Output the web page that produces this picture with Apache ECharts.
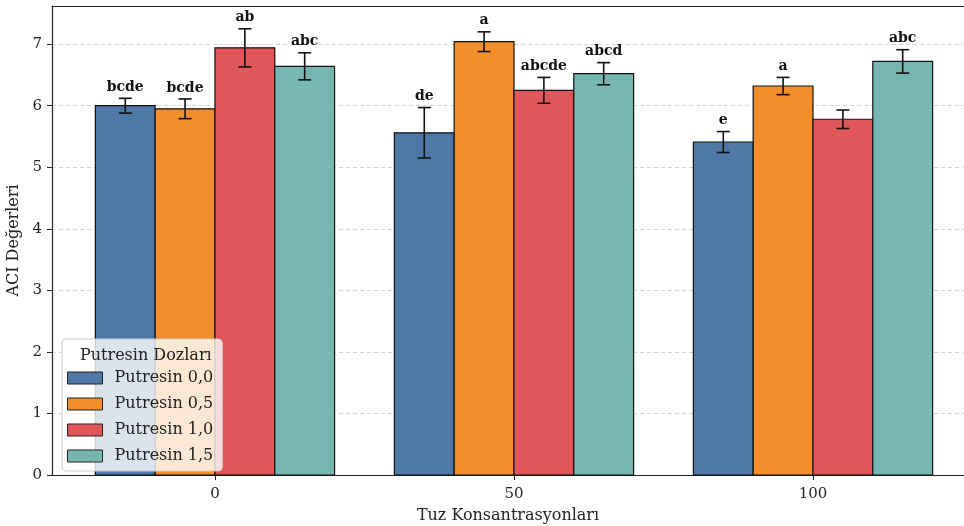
<!DOCTYPE html>
<html>
<head>
<meta charset="utf-8">
<script src="https://cdn.jsdelivr.net/npm/echarts@6/dist/echarts.min.js"></script>
<style>
  html, body { margin: 0; padding: 0; background: #fff; }
  #chart { width: 964px; height: 526px; }
</style>
</head>
<body>
<div id="chart"></div>
<script>
// data
var saltLevels = ['0', '50', '100'];
var doses = ['Putresin 0,0', 'Putresin 0,5', 'Putresin 1,0', 'Putresin 1,5'];
var aci00 = [6.00, 5.56, 5.41];
var aci05 = [5.95, 7.04, 6.32];
var aci10 = [6.94, 6.25, 5.78];
var aci15 = [6.64, 6.52, 6.72];
var err00 = [0.12, 0.41, 0.17];
var err05 = [0.16, 0.16, 0.14];
var err10 = [0.31, 0.21, 0.15];
var err15 = [0.22, 0.18, 0.19];
var let00 = ['bcde', 'de', 'e'];
var let05 = ['bcde', 'a', 'a'];
var let10 = ['ab', 'abcde', ''];
var let15 = ['abc', 'abcd', 'abc'];
var yTicks = [0, 1, 2, 3, 4, 5, 6, 7];

var means = [aci00, aci05, aci10, aci15];
var errs = [err00, err05, err10, err15];
var letters = [let00, let05, let10, let15];
var colors = ['#4e79a7', '#f28e2b', '#e15759', '#76b7b2'];
var font = 'DejaVu Serif';

var chart = echarts.init(document.getElementById('chart'));

// one custom series per dose: bar + error bar + letter
function doseSeries(i) {
  return {
    type: 'custom',
    name: doses[i],
    itemStyle: { color: colors[i] },
    encode: { x: 0, y: 1 },
    data: means[i].map(function (v, k) { return [k, v, errs[i][k]]; }),
    renderItem: function (params, api) {
      var k = api.value(0), v = api.value(1), e = api.value(2);
      var base = api.coord([k, 0]);
      var top = api.coord([k, v]);
      var w = api.size([1, 0])[0] * 0.2;
      var x0 = base[0] + (i - 2) * w;
      var cx = x0 + w / 2;
      var eTop = api.coord([k, v + e])[1];
      var eBot = api.coord([k, v - e])[1];
      var cap = 6.5;
      var line = { stroke: '#111', lineWidth: 1.6 };
      return {
        type: 'group',
        children: [
          { type: 'rect', shape: { x: x0, y: top[1], width: w, height: base[1] - top[1] },
            style: { fill: colors[i], stroke: '#111', lineWidth: 1.2 } },
          { type: 'line', shape: { x1: cx, y1: eTop, x2: cx, y2: eBot }, style: line },
          { type: 'line', shape: { x1: cx - cap, y1: eTop, x2: cx + cap, y2: eTop }, style: line },
          { type: 'line', shape: { x1: cx - cap, y1: eBot, x2: cx + cap, y2: eBot }, style: line },
          { type: 'text', x: cx, y: eTop - 4,
            style: { text: letters[i][params.dataIndex], align: 'center', verticalAlign: 'bottom',
                     font: 'bold 14px "' + font + '"', fill: '#111' } }
        ]
      };
    }
  };
}

var option = {
  animation: false,
  textStyle: { fontFamily: font },
  title: {
    text: 'Putresin Dozları',
    left: 75, top: 343,
    textStyle: { fontFamily: font, fontSize: 16, fontWeight: 'normal', color: '#222' },
    z: 20
  },
  legend: {
    data: doses,
    orient: 'vertical',
    left: 62, top: 339,
    padding: [31, 9, 7, 5],
    itemWidth: 35, itemHeight: 12, itemGap: 10,
    icon: 'rect',
    itemStyle: { borderColor: '#222', borderWidth: 1 },
    backgroundColor: 'rgba(255,255,255,0.8)',
    borderColor: '#ccc', borderWidth: 1, borderRadius: 4,
    textStyle: { fontFamily: font, fontSize: 16, color: '#222', lineHeight: 15, padding: [0, 0, 0, 7] },
    z: 10
  },
  grid: {
    left: 52, top: 6, right: 0, bottom: 51,
    show: false,
    outerBoundsMode: 'none',
    containLabel: false
  },
  xAxis: [{
    type: 'value',
    min: -0.545, max: 2.505,
    name: 'Tuz Konsantrasyonları',
    nameLocation: 'middle', nameGap: 33,
    nameTextStyle: { fontFamily: font, fontSize: 16, color: '#222' },
    axisLine: { onZero: false, lineStyle: { color: '#222', width: 1.2 } },
    axisTick: { show: true, length: 5, lineStyle: { color: '#222' }, customValues: [0, 1, 2] },
    axisLabel: {
      customValues: [0, 1, 2], margin: 12,
      fontFamily: font, fontSize: 15, color: '#222',
      formatter: function (v) { return saltLevels[Math.round(v)]; }
    },
    splitLine: { show: false }
  }, {
    // top frame line only
    type: 'value', position: 'top',
    min: -0.545, max: 2.505,
    axisLine: { show: true, onZero: false, lineStyle: { color: '#222', width: 1.2 } },
    axisTick: { show: false }, axisLabel: { show: false }, splitLine: { show: false }
  }],
  yAxis: {
    type: 'value',
    min: 0, max: 7.62,
    name: 'ACI Değerleri',
    nameLocation: 'middle', nameGap: 27,
    nameTextStyle: { fontFamily: font, fontSize: 16, color: '#222' },
    axisLine: { show: true, onZero: false, lineStyle: { color: '#222', width: 1.2 } },
    axisTick: { show: true, length: 5, lineStyle: { color: '#222' }, customValues: yTicks },
    axisLabel: { customValues: yTicks, margin: 10, fontFamily: font, fontSize: 15, color: '#222' },
    splitLine: { show: true, lineStyle: { color: '#c8c8c8', type: [4, 3], width: 0.8 } }
  },
  series: [doseSeries(0), doseSeries(1), doseSeries(2), doseSeries(3)]
};

chart.setOption(option);
window.addEventListener('resize', chart.resize);
</script>
</body>
</html>
